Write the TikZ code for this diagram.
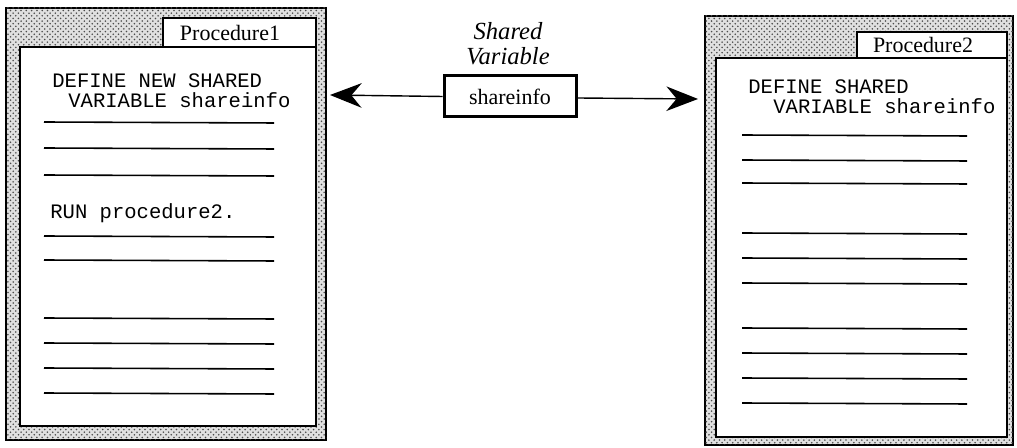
\documentclass[tikz,border=0pt]{standalone}
\usepackage{fontspec}
\setmainfont{Liberation Serif}
\newfontfamily\codefont{Liberation Mono}
\usetikzlibrary{arrows.meta,patterns}
\begin{document}
\begin{tikzpicture}[x=0.02cm,y=-0.02cm,
  frame/.style={draw=black,line width=1.2pt,fill=black!12,postaction={pattern=crosshatch dots,pattern color=black!70},inner sep=0pt,outer sep=0pt},
  panel/.style={draw=black,line width=1.2pt,fill=white},
  tab/.style={draw=black,line width=1.2pt,fill=white},
  tabtitle/.style={anchor=base,inner sep=0pt,font=\fontsize{12.5}{14}\selectfont},
  code/.style={anchor=base west,inner sep=0pt,font=\codefont\fontsize{11.7}{13}\selectfont},
  rule/.style={line width=0.9pt},
  varbox/.style={draw=black,line width=1.7pt,fill=white,minimum width=132*0.02cm,minimum height=41*0.02cm,inner sep=0pt,font=\fontsize{12.5}{14}\selectfont},
  link/.style={line width=0.8pt,-{Stealth[length=18pt,width=14pt]}}
]
\useasboundingbox (0,0) rectangle (1017,448);

% ---- left window: Procedure1 ----
\node[frame,minimum width=320*0.02cm,minimum height=432*0.02cm] (frame1) at (166,224) {};
\draw[panel] (20,47) rectangle (316,426);
\draw[tab] (163,18) rectangle (316,47);
\node[tabtitle] (title1) at (230,41) {Procedure1};
\node[code] (def1a) at (52,88) {DEFINE NEW SHARED};
\node[code] (def1b) at (68,108) {VARIABLE shareinfo};
\node[code] (run1) at (50,219) {RUN procedure2.};
\foreach \y in {122,148,175,236,260,318,343,368,393}
  \draw[rule] (44,\y) -- (274,\y+1);

% ---- right window: Procedure2 ----
\node[frame,minimum width=308*0.02cm,minimum height=429*0.02cm] (frame2) at (859,230.5) {};
\draw[panel] (716,58) rectangle (1007,437);
\draw[tab] (857,32) rectangle (1007,58);
\node[tabtitle] (title2) at (923,53) {Procedure2};
\node[code] (def2a) at (748,94) {DEFINE SHARED};
\node[code] (def2b) at (773,114) {VARIABLE shareinfo};
\foreach \y in {135,160,183,233,258,283,328,353,378,403}
  \draw[rule] (742,\y) -- (967,\y+1);

% ---- shared variable ----
\node[anchor=base,inner sep=0pt,font=\itshape\fontsize{14}{16}\selectfont] (lbl1) at (508,40) {Shared};
\node[anchor=base,inner sep=0pt,font=\itshape\fontsize{14}{16}\selectfont] (lbl2) at (508,65) {Variable};
\node[varbox] (var) at (510,96.5) {shareinfo};

\coordinate (tipL) at (330,95);
\coordinate (tipR) at (698,99);
\draw[link] (var.west) -- (tipL);
\draw[link] ([yshift=-1.5*0.02cm]var.east) -- (tipR);
\end{tikzpicture}
\end{document}
